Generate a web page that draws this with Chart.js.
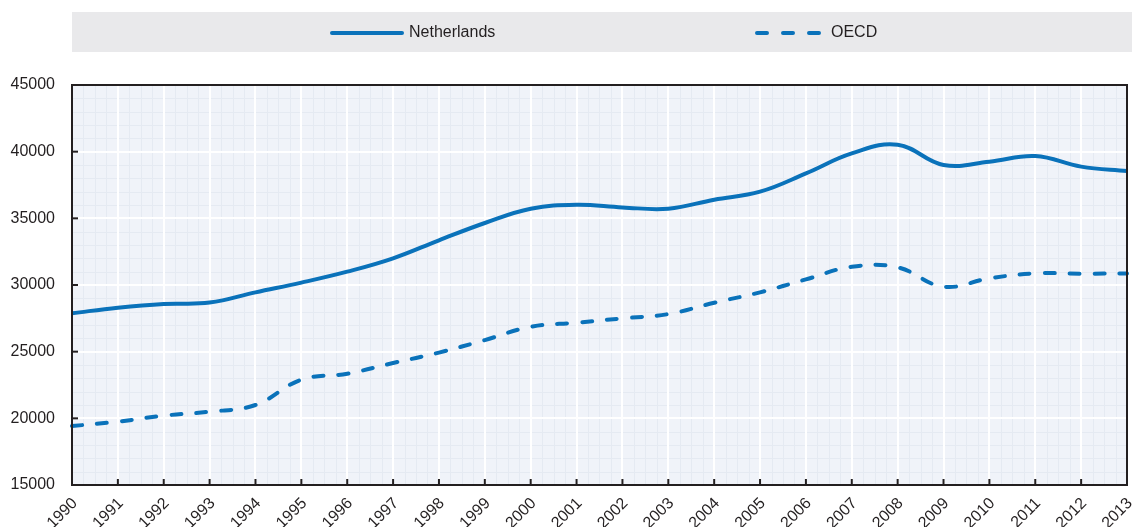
<!DOCTYPE html>
<html>
<head>
<meta charset="utf-8">
<script src="https://cdn.jsdelivr.net/npm/chart.js@4.4.0/dist/chart.umd.min.js"></script>
<style>
    html, body { margin: 0; padding: 0; background: #fff; }
    #wrap { width: 1132px; height: 527px; position: relative; }
</style>
</head>
<body>
<div id="wrap"><canvas id="chart" width="1132" height="527"></canvas></div>
<script>
// GDP per capita style series
const years = ['1990', '1991', '1992', '1993', '1994', '1995', '1996', '1997', '1998', '1999', '2000', '2001',
    '2002', '2003', '2004', '2005', '2006', '2007', '2008', '2009', '2010', '2011', '2012', '2013'];

const netherlands = [27880, 28300, 28580, 28680, 29450, 30180, 31000, 32000, 33350, 34650, 35720, 36020,
    35820, 35720, 36400, 37000, 38370, 39870, 40520, 39000, 39250, 39670, 38880, 38550];

const oecd = [19420, 19750, 20200, 20500, 21000, 22900, 23350, 24150, 24930, 25870, 26870, 27170,
    27500, 27820, 28670, 29450, 30420, 31370, 31320, 29870, 30500, 30870, 30850, 30870];

const yTicks = [15000, 20000, 25000, 30000, 35000, 40000, 45000];

const seriesNames = ['Netherlands', 'OECD'];

const BLUE = '#0a72ba';
const INK = '#231f20';
const FONT = "'Liberation Sans', Arial, sans-serif";

// plot background, faint minor grid, then legend strip above the plot
const backdrop = {
    id: 'backdrop',
    beforeDraw(chart) {
        const { ctx, chartArea: a, scales: { x, y } } = chart;
        ctx.save();
        ctx.fillStyle = '#f0f3f9';
        ctx.fillRect(a.left, a.top, a.right - a.left, a.bottom - a.top);

        ctx.strokeStyle = '#e5eaf2';
        ctx.lineWidth = 1;
        const step = (x.getPixelForValue(1) - x.getPixelForValue(0)) / 4;
        for (let px = a.left; px < a.right; px += step) {
            ctx.beginPath();
            ctx.moveTo(Math.round(px) + 0.5, a.top);
            ctx.lineTo(Math.round(px) + 0.5, a.bottom);
            ctx.stroke();
        }
        for (let v = 15000; v < 45000; v += 1000) {
            const py = Math.round(y.getPixelForValue(v)) + 0.5;
            ctx.beginPath();
            ctx.moveTo(a.left, py);
            ctx.lineTo(a.right, py);
            ctx.stroke();
        }

        // legend
        ctx.fillStyle = '#e9e9eb';
        ctx.fillRect(72, 12, 1060, 40);
        const items = [
            { x0: 332, x1: 402, dash: [] },
            { x0: 757, x1: 824, dash: [10, 16] }
        ];
        ctx.font = '16px ' + FONT;
        ctx.textBaseline = 'middle';
        items.forEach((it, i) => {
            ctx.strokeStyle = BLUE;
            ctx.lineWidth = 4;
            ctx.lineCap = 'round';
            ctx.setLineDash(it.dash);
            ctx.beginPath();
            ctx.moveTo(it.x0, 33);
            ctx.lineTo(it.x1, 33);
            ctx.stroke();
            ctx.setLineDash([]);
            ctx.fillStyle = INK;
            ctx.fillText(chart.data.datasets[i].label, it.x1 + 7, 33);
        });
        ctx.restore();
    },
    afterDraw(chart) {
        const { ctx, chartArea: a, scales: { x, y } } = chart;
        ctx.save();
        ctx.strokeStyle = INK;
        ctx.lineWidth = 2;
        // inward tick marks
        yTicks.forEach(v => {
            const py = y.getPixelForValue(v);
            ctx.beginPath();
            ctx.moveTo(a.left, py);
            ctx.lineTo(a.left + 6, py);
            ctx.stroke();
        });
        years.forEach((_, i) => {
            const px = x.getPixelForValue(i);
            ctx.beginPath();
            ctx.moveTo(px, a.bottom);
            ctx.lineTo(px, a.bottom - 6);
            ctx.stroke();
        });
        ctx.strokeRect(a.left, a.top, a.right - a.left, a.bottom - a.top);
        ctx.restore();
    }
};

new Chart(document.getElementById('chart'), {
    type: 'line',
    data: {
        labels: years,
        datasets: [
            {
                label: seriesNames[0],
                data: netherlands,
                borderColor: BLUE,
                borderWidth: 4,
                pointRadius: 0,
                tension: 0.4,
                fill: false
            },
            {
                label: seriesNames[1],
                data: oecd,
                borderColor: BLUE,
                borderWidth: 4,
                borderDash: [10, 15],
                borderCapStyle: 'round',
                pointRadius: 0,
                tension: 0.4,
                fill: false
            }
        ]
    },
    options: {
        responsive: false,
        animation: false,
        layout: { padding: { top: 85, right: 5, left: 0, bottom: 0 } },
        plugins: {
            legend: { display: false },
            tooltip: { enabled: false }
        },
        scales: {
            x: {
                type: 'category',
                offset: false,
                grid: { color: '#ffffff', lineWidth: 2, drawTicks: false },
                border: { display: false },
                ticks: {
                    autoSkip: false,
                    maxRotation: 45,
                    minRotation: 45,
                    padding: 9,
                    labelOffset: 3,
                    color: INK,
                    font: { family: FONT, size: 16 }
                },
                afterFit(scale) {
                    scale.height = 42;
                    scale.paddingRight = 0;
                    scale.paddingLeft = 0;
                }
            },
            y: {
                min: 15000,
                max: 45000,
                grid: { color: '#ffffff', lineWidth: 2, drawTicks: false },
                border: { display: false },
                ticks: {
                    stepSize: 5000,
                    padding: 17,
                    color: INK,
                    font: { family: FONT, size: 16 },
                    callback: v => String(v)
                },
                afterFit(scale) { scale.width = 72; }
            }
        }
    },
    plugins: [backdrop]
});
</script>
</body>
</html>
